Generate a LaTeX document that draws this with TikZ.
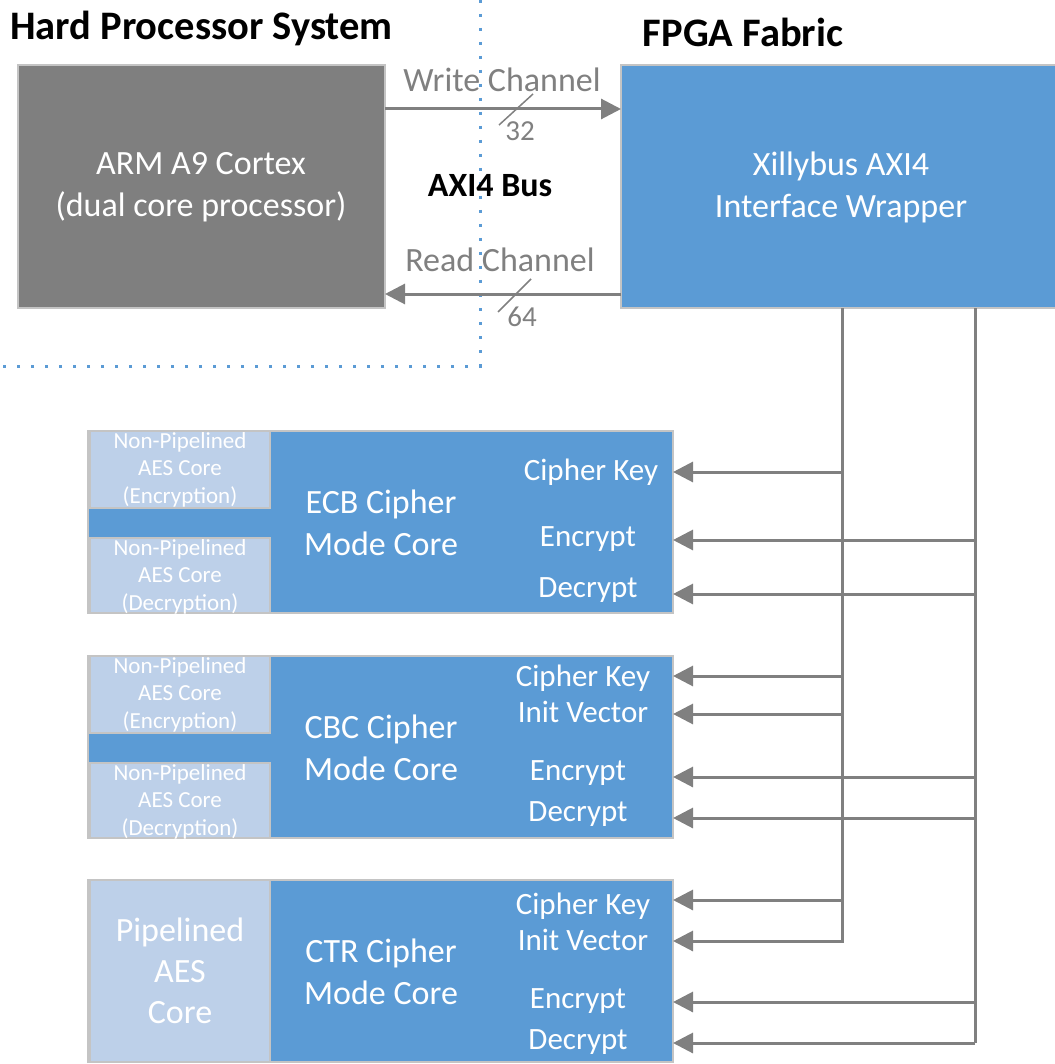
\documentclass[tikz,border=0pt]{standalone}
\usepackage{fontspec}
\setmainfont{Carlito}
\usetikzlibrary{arrows.meta}
\definecolor{fabric}{RGB}{91,155,213}
\definecolor{hps}{RGB}{127,127,127}
\definecolor{aes}{RGB}{189,208,233}
\definecolor{wire}{RGB}{128,128,128}
\definecolor{rim}{RGB}{196,196,196}
\tikzset{
  blk/.style={draw=rim, line width=1.5pt, inner sep=0pt, outer sep=0pt, anchor=north west},
  hpsbox/.style={blk, fill=hps},
  fabbox/.style={blk, fill=fabric},
  aesbox/.style={blk, fill=aes, text=white, align=center,
    font=\fontsize{23}{27.5}\selectfont},
  aestxt/.style={text=white, align=center, inner sep=0pt,
    font=\fontsize{23}{27.5}\selectfont},
  bigtxt/.style={text=white, align=center, inner sep=0pt,
    font=\fontsize{34}{42}\selectfont},
  sig/.style={text=white, align=center, inner sep=0pt,
    font=\fontsize{31}{36}\selectfont},
  chan/.style={text=wire, inner sep=0pt, font=\fontsize{34}{40}\selectfont},
  bitw/.style={text=wire, inner sep=0pt, font=\fontsize{29}{32}\selectfont},
  title/.style={text=black, inner sep=0pt, font=\bfseries\fontsize{40.5}{48}\selectfont},
  wireline/.style={draw=wire, line width=3pt},
  arr/.style={wireline, -{Triangle[length=20pt,width=20pt]}},
  slash/.style={draw=wire, line width=1.5pt},
  region/.style={draw=fabric, line width=3pt, dash pattern=on 3pt off 11pt}
}
\begin{document}
\begin{tikzpicture}[x=1pt,y=-1pt]
\useasboundingbox (0,0) rectangle (1054,1064);

% boundary of the hard processor system
\draw[region] (480,0) -- (480,366) -- (0,366);

% section titles
\node[title, anchor=west] (thps) at (10,28) {Hard Processor System};
\node[title] (tfab) at (743,32) {FPGA Fabric};

% processor and interface wrapper
\node[hpsbox, minimum width=367pt, minimum height=243pt] (arm) at (18,65) {};
\node[bigtxt] (armtxt) at (201,187) {ARM A9 Cortex\\(dual core processor)};
\node[fabbox, minimum width=440pt, minimum height=243pt] (xil) at (621,65) {};
\node[bigtxt] (xiltxt) at (841,187) {Xillybus AXI4\\Interface Wrapper};

% AXI4 bus channels
\coordinate (wy) at (0,109);
\coordinate (ry) at (0,294);
\draw[arr] (arm.east |- wy) -- (xil.west |- wy);
\draw[arr] (xil.west |- ry) -- (arm.east |- ry);
\node[chan] (wlab) at (502,80) {Write Channel};
\node[chan] (rlab) at (500,260) {Read Channel};
\draw[slash] (499,125) -- (533,94);
\draw[slash] (498,312) -- (531,279);
\node[bitw] (w32) at (520,131) {32};
\node[bitw] (w64) at (522,317) {64};
\node[title, font=\bfseries\fontsize{34}{40}\selectfont] (axi) at (490,186) {AXI4 Bus};

% control buses leaving the wrapper
\coordinate (busA) at (xil.south -| 842,0);
\coordinate (busB) at (xil.south -| 975,0);
\coordinate (endA) at (842,943);
\coordinate (endB) at (975,1043);
\draw[wireline] (busA) -- (endA);
\draw[wireline] (busB) -- (endB);

% ECB cipher mode core
\node[fabbox, minimum width=585pt, minimum height=182pt] (ecb) at (88,431) {};
\node[aesbox, minimum width=180pt, minimum height=77pt] (ecbenc) at (90,431) {};
\node[aesbox, minimum width=180pt, minimum height=75pt] (ecbdec) at (90,538) {};
\node[aestxt] (ecbenct) at (ecbenc.center) {Non-Pipelined\\AES Core\\(Encryption)};
\node[aestxt] (ecbdect) at ([yshift=-1pt]ecbdec.center) {Non-Pipelined\\AES Core\\(Decryption)};
\node[bigtxt] (ecbtxt) at (381,523) {ECB Cipher\\Mode Core};
\node[sig] (ecbkey) at (591,472) {Cipher Key};
\node[sig] (ecbe) at (588,539) {Encrypt};
\node[sig] (ecbd) at (588,590) {Decrypt};
\coordinate (e1) at (842,472);
\coordinate (e2) at (975,540);
\coordinate (e3) at (975,594);
\draw[arr] (e1) -- (ecb.east |- e1);
\draw[arr] (e2) -- (ecb.east |- e2);
\draw[arr] (e3) -- (ecb.east |- e3);

% CBC cipher mode core
\node[fabbox, minimum width=585pt, minimum height=182pt] (cbc) at (88,656) {};
\node[aesbox, minimum width=180pt, minimum height=77pt] (cbcenc) at (90,656) {};
\node[aesbox, minimum width=180pt, minimum height=75pt] (cbcdec) at (90,763) {};
\node[aestxt] (cbcenct) at (cbcenc.center) {Non-Pipelined\\AES Core\\(Encryption)};
\node[aestxt] (cbcdect) at ([yshift=-1pt]cbcdec.center) {Non-Pipelined\\AES Core\\(Decryption)};
\node[bigtxt] (cbctxt) at (381,748) {CBC Cipher\\Mode Core};
\node[sig] (cbckey) at (583,694) {Cipher Key\\Init Vector};
\node[sig] (cbce) at (578,773) {Encrypt};
\node[sig] (cbcd) at (578,814) {Decrypt};
\coordinate (c1) at (842,676);
\coordinate (c2) at (842,714);
\coordinate (c3) at (975,777);
\coordinate (c4) at (975,818);
\draw[arr] (c1) -- (cbc.east |- c1);
\draw[arr] (c2) -- (cbc.east |- c2);
\draw[arr] (c3) -- (cbc.east |- c3);
\draw[arr] (c4) -- (cbc.east |- c4);

% CTR cipher mode core
\node[fabbox, minimum width=585pt, minimum height=182pt] (ctr) at (88,880) {};
\node[aesbox, minimum width=180pt, minimum height=182pt,
  font=\fontsize{34}{41}\selectfont] (ctraes) at (90,880) {Pipelined\\AES\\Core};
\node[bigtxt] (ctrtxt) at (381,972) {CTR Cipher\\Mode Core};
\node[sig] (ctrkey) at (583,922) {Cipher Key\\Init Vector};
\node[sig] (ctre) at (578,1001) {Encrypt};
\node[sig] (ctrd) at (578,1042) {Decrypt};
\coordinate (t1) at (842,900);
\coordinate (t2) at (842,941);
\coordinate (t3) at (975,1002);
\coordinate (t4) at (975,1043);
\draw[arr] (t1) -- (ctr.east |- t1);
\draw[arr] (t2) -- (ctr.east |- t2);
\draw[arr] (t3) -- (ctr.east |- t3);
\draw[arr] (t4) -- (ctr.east |- t4);
\end{tikzpicture}
\end{document}
